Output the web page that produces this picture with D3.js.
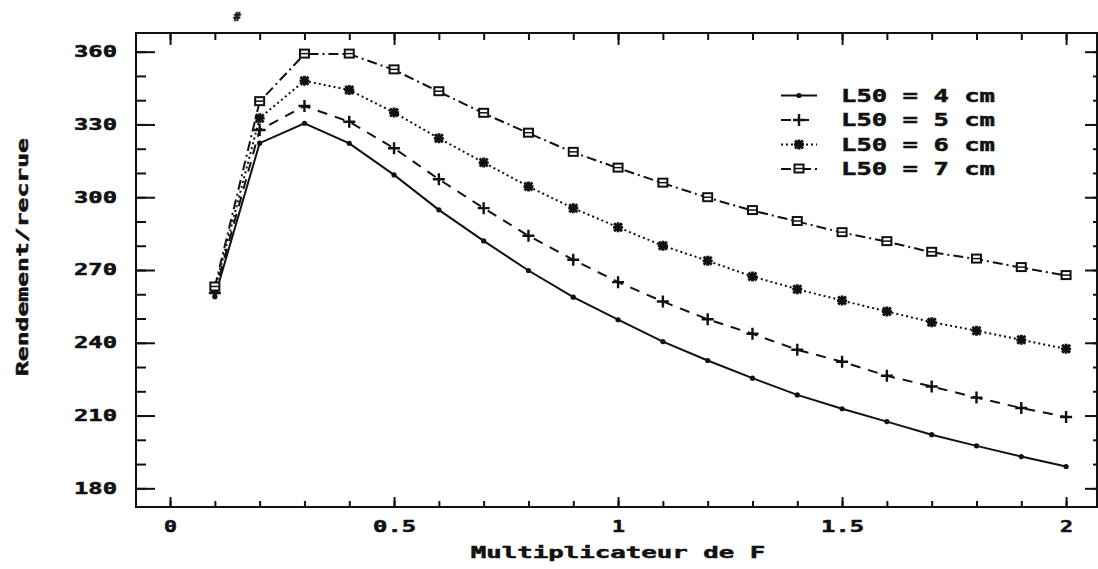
<!DOCTYPE html>
<html>
<head>
<meta charset="utf-8">
<script src="https://cdn.jsdelivr.net/npm/d3@7"></script>
<style>
  body { margin: 0; background: #fff; }
  svg text { font-family: "DejaVu Sans Mono", monospace; font-weight: bold; fill: #111; stroke: #111; stroke-width: 0.5px; }
</style>
</head>
<body>
<svg id="chart" width="1098" height="569"></svg>
<script>
// data
var multF = [0.1, 0.2, 0.3, 0.4, 0.5, 0.6, 0.7, 0.8, 0.9, 1.0,
             1.1, 1.2, 1.3, 1.4, 1.5, 1.6, 1.7, 1.8, 1.9, 2.0];
var yieldL4 = [259, 322.3, 330.5, 322.2, 309.2, 294.8, 282.0, 269.8, 258.8, 249.5,
               240.5, 232.7, 225.4, 218.5, 212.8, 207.5, 202.1, 197.5, 193.1, 189.0];
var yieldL5 = [260.5, 327.7, 337.6, 331.1, 320.2, 307.4, 295.5, 284.1, 274.2, 265.0,
               257.0, 249.7, 243.7, 237.1, 232.2, 226.4, 222.0, 217.4, 213.1, 209.4];
var yieldL6 = [262, 332.6, 348, 344.2, 334.9, 324.3, 314.3, 304.4, 295.5, 287.6,
               280.0, 273.8, 267.3, 262.1, 257.4, 252.9, 248.5, 245.0, 241.2, 237.5];
var yieldL7 = [263, 339.4, 359, 359, 352.5, 343.5, 334.6, 326.4, 318.5, 312.0,
               305.8, 299.8, 294.5, 290.0, 285.4, 281.7, 277.3, 274.5, 271.0, 267.7];
var seriesNames = ["L50 = 4 cm", "L50 = 5 cm", "L50 = 6 cm", "L50 = 7 cm"];
var xTicks = [0, 0.5, 1, 1.5, 2];
var yTicks = [180, 210, 240, 270, 300, 330, 360];

var svg = d3.select("#chart");
var plotLeft = 136, plotRight = 1097, plotTop = 33, plotBottom = 507;

var x = d3.scaleLinear().domain([-0.076, 2.069]).range([plotLeft, plotRight]);
var y = d3.scaleLinear().domain([172.3, 367.7]).range([plotBottom, plotTop]);

// stretch the mono font to look like the old plotter font
function stretch(sel, per) {
  sel.attr("textLength", function() { return this.textContent.length * per - 2; })
     .attr("lengthAdjust", "spacingAndGlyphs");
}

var xMinor = d3.range(0, 2.001, 0.1).map(function(d) { return +d.toFixed(1); });
var yMinor = d3.range(180, 361, 10);

function drawAxis(axis, tx, ty, cls) {
  var g = svg.append("g").attr("class", cls)
      .attr("transform", "translate(" + tx + "," + ty + ")")
      .call(axis);
  g.select(".domain").remove();
  g.selectAll("line").attr("stroke", "#111").attr("stroke-width", 2);
  return g;
}

// minor ticks
drawAxis(d3.axisLeft(y).tickValues(yMinor).tickSizeInner(-10).tickSizeOuter(0).tickFormat(""), plotLeft, 0, "ym");
drawAxis(d3.axisRight(y).tickValues(yMinor).tickSizeInner(-4).tickSizeOuter(0).tickFormat(""), plotRight, 0, "ym2");
drawAxis(d3.axisBottom(x).tickValues(xMinor).tickSizeInner(-6).tickSizeOuter(0).tickFormat(""), 0, plotBottom, "xm");
drawAxis(d3.axisTop(x).tickValues(xMinor).tickSizeInner(-7).tickSizeOuter(0).tickFormat(""), 0, plotTop, "xm2");

// major ticks
var yAx = drawAxis(d3.axisLeft(y).tickValues(yTicks).tickSizeInner(-19).tickSizeOuter(0).tickPadding(19), plotLeft, 0, "yM");
drawAxis(d3.axisRight(y).tickValues(yTicks).tickSizeInner(-12).tickSizeOuter(0).tickFormat(""), plotRight, 0, "yM2");
var xAx = drawAxis(d3.axisBottom(x).tickValues(xTicks).tickSizeInner(-10).tickSizeOuter(0).tickPadding(14)
    .tickFormat(function(d) { return String(d); }), 0, plotBottom, "xM");
drawAxis(d3.axisTop(x).tickValues(xTicks).tickSizeInner(-12).tickSizeOuter(0).tickFormat(""), 0, plotTop, "xM2");

yAx.selectAll("text").attr("font-size", 15.5).attr("font-family", null).attr("fill", null).call(stretch, 15);
xAx.selectAll("text").attr("font-size", 15.5).attr("font-family", null).attr("fill", null).call(stretch, 15);

// frame
svg.append("rect")
    .attr("x", plotLeft).attr("y", plotTop)
    .attr("width", plotRight - plotLeft).attr("height", plotBottom - plotTop)
    .attr("fill", "none").attr("stroke", "#111").attr("stroke-width", 2);

// axis titles
svg.append("text")
    .attr("transform", "translate(23,257) rotate(-90)")
    .attr("text-anchor", "middle").attr("dy", "0.35em")
    .attr("font-size", 15.5)
    .text("Rendement/recrue").call(stretch, 15);
svg.append("text")
    .attr("x", 618).attr("y", 553)
    .attr("text-anchor", "middle").attr("dy", "0.35em")
    .attr("font-size", 15.5)
    .text("Multiplicateur de F").call(stretch, 15.6);

// stray mark at top of the scan
svg.append("text")
    .attr("x", 237).attr("y", 21)
    .attr("text-anchor", "middle")
    .attr("font-size", 12).attr("font-style", "italic")
    .text("#");

// markers
function markDot(g) {
  g.append("circle").attr("r", 2.6).attr("fill", "#111");
}
function markPlus(g) {
  g.append("path").attr("d", "M-6,0H6M0,-6V6")
      .attr("stroke", "#111").attr("stroke-width", 2.4);
}
function markStar(g) {
  g.append("path").attr("d", "M-5,0H5M0,-5V5M-4,-4L4,4M-4,4L4,-4")
      .attr("stroke", "#111").attr("stroke-width", 2.8);
}
function markSquare(g) {
  g.append("rect").attr("x", -4.5).attr("y", -4.5).attr("width", 9).attr("height", 8)
      .attr("fill", "#fff").attr("stroke", "#111").attr("stroke-width", 2);
  g.append("path").attr("d", "M-4,-0.5H4").attr("stroke", "#111").attr("stroke-width", 1.5);
}

var series = [
  { name: seriesNames[0], values: yieldL4, dash: null, mark: markDot },
  { name: seriesNames[1], values: yieldL5, dash: "10,8", mark: markPlus },
  { name: seriesNames[2], values: yieldL6, dash: "2,3", mark: markStar },
  { name: seriesNames[3], values: yieldL7, dash: "10,4,2,4", mark: markSquare }
];

var line = d3.line()
    .x(function(d) { return x(d[0]); })
    .y(function(d) { return y(d[1]); });

series.forEach(function(s) {
  var pts = multF.map(function(f, i) { return [f, s.values[i]]; });
  svg.append("path")
      .datum(pts)
      .attr("d", line)
      .attr("fill", "none")
      .attr("stroke", "#111")
      .attr("stroke-width", 2)
      .attr("stroke-dasharray", s.dash);
  pts.forEach(function(p) {
    var g = svg.append("g").attr("transform", "translate(" + x(p[0]) + "," + y(p[1]) + ")");
    s.mark(g);
  });
});

// legend
var legend = svg.append("g").attr("class", "legend");
series.forEach(function(s, i) {
  var ly = 95.5 + i * 24.5;
  legend.append("line")
      .attr("x1", 781).attr("x2", 817).attr("y1", ly).attr("y2", ly)
      .attr("stroke", "#111").attr("stroke-width", 2)
      .attr("stroke-dasharray", s.dash);
  s.mark(legend.append("g").attr("transform", "translate(799," + ly + ")"));
  legend.append("text")
      .attr("x", 841).attr("y", ly).attr("dy", "0.36em")
      .attr("font-size", 18)
      .text(s.name).call(stretch, 15.6);
});
</script>
</body>
</html>
